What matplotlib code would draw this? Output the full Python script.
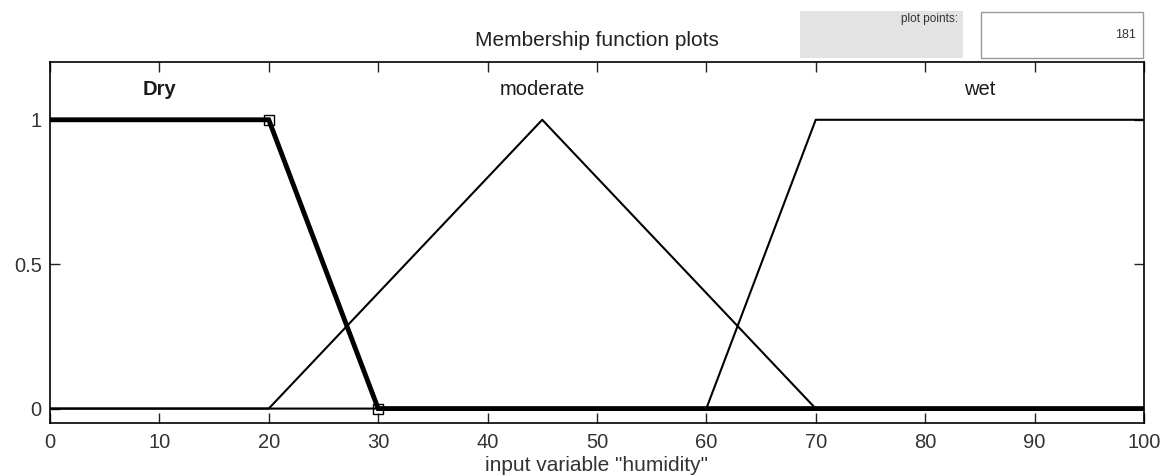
import matplotlib.pyplot as plt
from matplotlib.patches import Rectangle

plt.rcParams['font.family'] = ['Liberation Sans', 'DejaVu Sans']

# breakpoints of the three membership functions on "humidity"
dry_x = [0, 20, 30, 100]
dry_y = [1, 1, 0, 0]
moderate_x = [0, 20, 45, 70, 100]
moderate_y = [0, 0, 1, 0, 0]
wet_x = [0, 60, 70, 100]
wet_y = [0, 0, 1, 1]

mf_names = ["Dry", "moderate", "wet"]
name_x = [10, 45, 85]
x_ticks = [0, 10, 20, 30, 40, 50, 60, 70, 80, 90, 100]
y_ticks = [0, 0.5, 1]
plot_points = 181

fig = plt.figure(figsize=(11.7, 4.76), dpi=100)
ax = fig.add_axes([0.0427, 0.1113, 0.935, 0.7584])

ax.plot(moderate_x, moderate_y, color='black', lw=1.5)
ax.plot(wet_x, wet_y, color='black', lw=1.5)
ax.plot(dry_x, dry_y, color='black', lw=3.5, solid_joinstyle='miter')
# selected function shows its vertices
ax.plot([dry_x[1], dry_x[2]], [dry_y[1], dry_y[2]], ls='none', marker='s',
        ms=7, mfc='none', mec='black', mew=1)

for name, x in zip(mf_names, name_x):
    ax.text(x, 1.105, name, ha='center', va='center', fontsize=14.5,
            color='#1a1a1a', fontweight='bold' if name == "Dry" else 'normal')

ax.set_xlim(0, 100)
ax.set_ylim(-0.05, 1.2)
ax.set_xticks(x_ticks)
ax.set_yticks(y_ticks)
ax.set_yticklabels(["0", "0.5", "1"])
ax.tick_params(direction='in', top=True, right=True, labelsize=14.5,
               length=7, width=1, colors='#222222', labelcolor='#333333')
ax.tick_params(axis='x', pad=7)
ax.tick_params(axis='y', pad=6)
for s in ax.spines.values():
    s.set_linewidth(1.2)
ax.set_xlabel('input variable "humidity"', fontsize=15, color='#333333', labelpad=3)

fig.text(0.51, 0.915, "Membership function plots", ha='center', va='center',
         fontsize=15, color='#222222')

# plot points panel
fig.patches.append(Rectangle((800 / 1170, 1 - 58 / 476), 163 / 1170, 47 / 476,
                             transform=fig.transFigure, facecolor='#e3e3e3',
                             edgecolor='none'))
fig.text(958 / 1170, 1 - 19 / 476, "plot points:", ha='right', va='center',
         fontsize=8.5, color='#333333')
fig.patches.append(Rectangle((981 / 1170, 1 - 58 / 476), 162 / 1170, 46 / 476,
                             transform=fig.transFigure, facecolor='white',
                             edgecolor='#999999', lw=1))
fig.text(1136 / 1170, 1 - 35 / 476, str(plot_points), ha='right', va='center',
         fontsize=9, color='#333333')

fig.savefig("out.png", dpi=100)
